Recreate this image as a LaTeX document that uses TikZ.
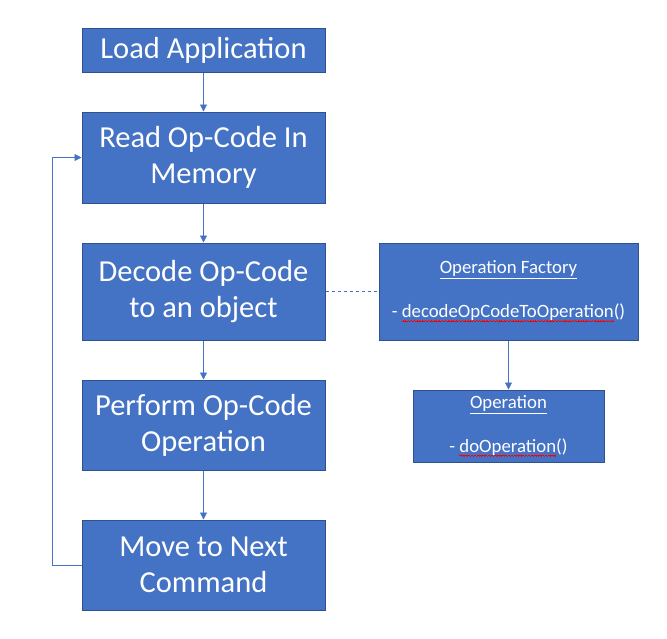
\documentclass[tikz,border=0pt]{standalone}
\usepackage{fontspec}
\setmainfont{Carlito}
\usetikzlibrary{arrows.meta}
\definecolor{boxblue}{HTML}{4472C4}
\definecolor{boxedge}{HTML}{2F528F}
\newcommand\redwave[1]{\setbox0\hbox{#1}\rlap{\color{red}\lower3.5pt\hbox to\wd0{\xleaders\hbox{\rule{0.7pt}{0.7pt}\raise0.7pt\hbox{\rule{0.7pt}{0.7pt}}\rule{0.7pt}{0.7pt}\lower0.7pt\hbox{\rule{0.7pt}{0.7pt}}}\hfil}}\box0}
\tikzset{
  stepbox/.style={draw=boxedge, line width=1pt, fill=boxblue, text=white, align=center,
    minimum width=243pt, inner sep=2pt, font=\fontsize{30.5}{36}\selectfont},
  classbox/.style={draw=boxedge, line width=1pt, fill=boxblue, text=white, align=center,
    inner sep=2pt, font=\fontsize{18.8}{22}\selectfont},
  flow/.style={draw=boxblue, line width=0.8pt, -{Triangle[width=7pt,length=7pt]}}
}
\begin{document}
\begin{tikzpicture}[x=1pt,y=-1pt]
                \useasboundingbox (0,0) rectangle (667,638);
                \node[stepbox, minimum height=44pt] (load) at (203.5,50) {Load Application};
                \node[stepbox, minimum height=91pt] (read) at (203.5,157.5) {Read Op-Code In\\Memory};
                \node[stepbox, minimum height=97pt] (decode) at (203.5,291.5) {Decode Op-Code\\to an object};
                \node[stepbox, minimum height=90pt] (perform) at (203.5,425) {Perform Op-Code\\Operation};
                \node[stepbox, minimum height=90pt] (move) at (203.5,565) {Move to Next\\Command};
                \node[classbox, minimum width=259pt, minimum height=97pt] (factory) at (508.5,291.5)
                    {\underline{Operation Factory}\\[22pt]- \redwave{decodeOpCodeToOperation}()};
                \node[classbox, minimum width=191pt, minimum height=72pt] (operation) at (508.5,426)
                    {\underline{Operation}\\[22pt]- \redwave{doOperation}()};
                \coordinate (Lb) at (52,565);
                \coordinate (Lt) at (52,157.5);
                \draw[flow] (load) -- (read);
                \draw[flow] (read) -- (decode);
                \draw[flow] (decode) -- (perform);
                \draw[flow] (perform) -- (move);
                \draw[flow] (move.west) -- (Lb) -- (Lt) -- (read.west);
                \draw[boxblue, line width=0.8pt, dashed] (decode) -- (factory);
                \draw[flow] (factory) -- (operation);
            \end{tikzpicture}
\end{document}
